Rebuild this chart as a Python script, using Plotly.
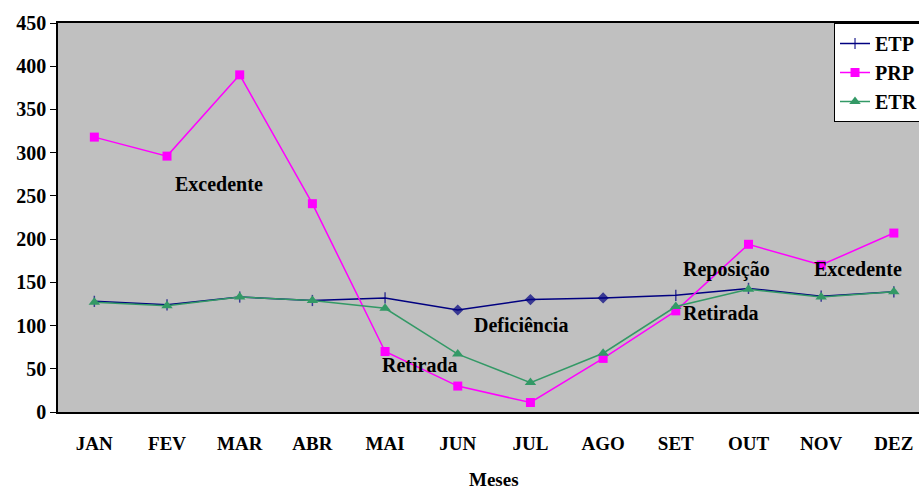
import plotly.graph_objects as go

months = ["JAN", "FEV", "MAR", "ABR", "MAI", "JUN", "JUL", "AGO", "SET", "OUT", "NOV", "DEZ"]
etp = [128, 124, 133, 129, 132, 118, 130, 132, 135, 143, 134, 139]
prp = [318, 296, 390, 241, 70, 30, 11, 62, 117, 194, 170, 207]
etr = [127, 123, 133, 129, 120, 67, 34, 68, 122, 142, 133, 139]
y_ticks = [0, 50, 100, 150, 200, 250, 300, 350, 400, 450]

FONT = "Liberation Serif"
x_idx = list(range(len(months)))

etp_symbols = ["line-ns-open"] * 5 + ["diamond"] * 3 + ["line-ns-open"] * 4
etp_sizes = [8] * 5 + [7] * 3 + [8] * 4

fig = go.Figure()
fig.add_trace(go.Scatter(
    x=x_idx, y=etp, name="ETP", mode="lines+markers",
    line=dict(color="#000080", width=1.5),
    marker=dict(symbol=etp_symbols, size=etp_sizes, color="#000080",
                line=dict(color="#000080", width=1.5)),
))
fig.add_trace(go.Scatter(
    x=x_idx, y=prp, name="PRP", mode="lines+markers",
    line=dict(color="#FF00FF", width=1.5),
    marker=dict(symbol="square", size=9, color="#FF00FF"),
))
fig.add_trace(go.Scatter(
    x=x_idx, y=etr, name="ETR", mode="lines+markers",
    line=dict(color="#339966", width=1.5),
    marker=dict(symbol="triangle-up", size=10, color="#339966"),
))

labels = [
    ("Excedente", 1.72, 264),
    ("Retirada", 4.48, 54),
    ("Deficiência", 5.87, 101),
    ("Reposição", 8.70, 165),
    ("Retirada", 8.62, 114),
    ("Excedente", 10.5, 165),
]
for txt, xx, yy in labels:
    fig.add_annotation(x=xx, y=yy, xref="x", yref="y", text=txt, showarrow=False,
                       font=dict(family=FONT, size=20, color="black", weight="bold"))

fig.add_annotation(x=0.5064, y=0, xref="paper", yref="paper", text="Meses",
                   showarrow=False, yanchor="middle", yshift=-67,
                   font=dict(family=FONT, size=19, color="black", weight="bold"))

fig.update_layout(
    width=919, height=489,
    margin=dict(l=58, r=0, t=23, b=77, autoexpand=False),
    paper_bgcolor="white", plot_bgcolor="#C0C0C0",
    font=dict(family=FONT, size=20, color="black", weight="bold"),
    showlegend=True,
    legend=dict(x=0.9013, y=1, xanchor="left", yanchor="top",
                bgcolor="white", bordercolor="black", borderwidth=1,
                font=dict(family=FONT, size=20, color="black", weight="bold"),
                tracegroupgap=0),
    xaxis=dict(range=[-0.5, 11.346], tickmode="array", tickvals=x_idx, ticktext=months,
               showline=True, linecolor="black", linewidth=1.5, mirror=True,
               ticks="", showgrid=False, zeroline=False, ticklabelstandoff=13,
               tickfont=dict(family=FONT, size=19, color="black", weight="bold")),
    yaxis=dict(range=[0, 450], tickvals=y_ticks, showline=True, linecolor="black", linewidth=1.5,
               ticks="outside", ticklen=6, tickcolor="black", tickwidth=1,
               showgrid=False, zeroline=False,
               tickfont=dict(family=FONT, size=20, color="black", weight="bold")),
)

fig.write_html("out.html", config={"displayModeBar": False})
with open("out.html", "r", encoding="utf-8") as f:
    html = f.read()
html = html.replace("<head>", "<head><style>html,body{margin:0;padding:0;overflow:hidden;}</style>", 1)
with open("out.html", "w", encoding="utf-8") as f:
    f.write(html)
